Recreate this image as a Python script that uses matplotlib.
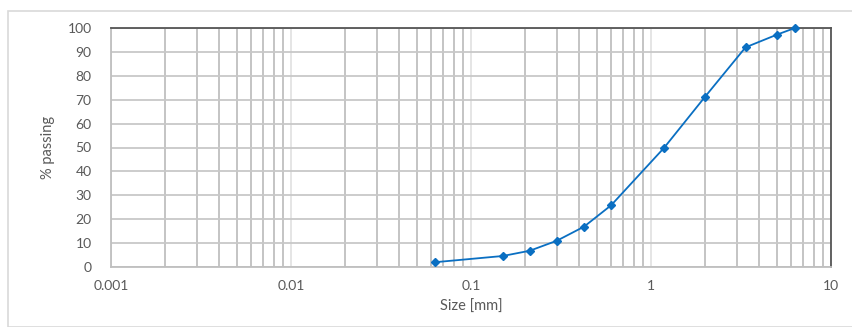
import matplotlib.pyplot as plt
from matplotlib.patches import Rectangle
from matplotlib.ticker import LogLocator, FixedLocator, NullFormatter

# sieve sizes (mm) and % passing
size_mm = [0.063, 0.15, 0.212, 0.3, 0.425, 0.6, 1.18, 2.0, 3.35, 5.0, 6.3]
passing = [2.0, 4.6, 6.8, 11.0, 16.9, 25.8, 49.8, 71.3, 91.9, 97.2, 100.0]

x_ticks = [0.001, 0.01, 0.1, 1, 10]
x_labels = ["0.001", "0.01", "0.1", "1", "10"]
y_ticks = list(range(0, 101, 10))

plt.rcParams['font.family'] = ['Lato', 'DejaVu Sans']
txt = '#595959'

fig = plt.figure(figsize=(8.53, 3.27), dpi=100)
# light border of the chart area
fig.patches.append(Rectangle((8 / 853, 0), 1, 1 - 11 / 327, transform=fig.transFigure,
                             fill=False, edgecolor='#d9d9d9', linewidth=1.2, zorder=0))

ax = fig.add_axes([111 / 853, 1 - 267 / 327, 720 / 853, 239 / 327])
ax.set_xscale('log')
ax.set_xlim(0.001, 10)
ax.set_ylim(0, 100)

ax.xaxis.set_major_locator(FixedLocator(x_ticks))
ax.set_xticklabels(x_labels)
ax.xaxis.set_minor_locator(LogLocator(base=10, subs=range(2, 10)))
ax.xaxis.set_minor_formatter(NullFormatter())
ax.set_yticks(y_ticks)

ax.grid(True, which='minor', axis='x', color='#bfbfbf', linewidth=1.3)
ax.grid(True, which='major', axis='x', color='#e3e3e3', linewidth=1.3)
ax.grid(True, which='major', axis='y', color='#c8c8c8', linewidth=1.3)
ax.set_axisbelow(True)

ax.tick_params(which='both', length=0, colors=txt, labelsize=10)
ax.tick_params(axis='x', pad=9)
ax.tick_params(axis='y', pad=14)

for s in ['top', 'right']:
    ax.spines[s].set_color('#555555')
    ax.spines[s].set_linewidth(1.3)
for s in ['left', 'bottom']:
    ax.spines[s].set_color('#bfbfbf')
    ax.spines[s].set_linewidth(1.3)

ax.plot(size_mm, passing, color='#0a6fc2', linewidth=1.3, marker='D',
        markersize=4.5, clip_on=False, zorder=3)

ax.set_xlabel('Size [mm]', color=txt, fontsize=10.5, labelpad=6)
ax.set_ylabel('% passing', color=txt, fontsize=10.5, labelpad=9)

fig.savefig('out.png', dpi=100)
